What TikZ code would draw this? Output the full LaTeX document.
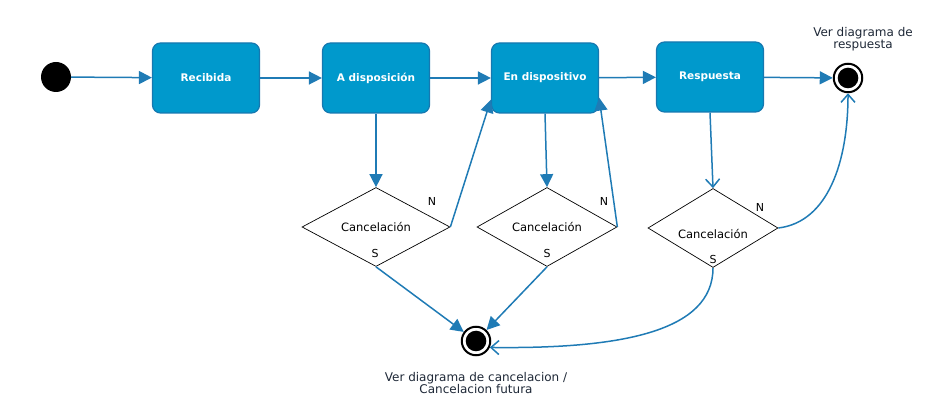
\documentclass[tikz,border=0pt]{standalone}
\usepackage{fontspec}
\setmainfont{DejaVu Sans}
\usepackage{tikz}
\usetikzlibrary{shapes.geometric, arrows.meta}
\usepackage{xcolor}
\definecolor{azulestado}{RGB}{0,153,204}
\definecolor{azulborde}{RGB}{22,120,176}
\definecolor{azulflecha}{RGB}{31,123,181}
\definecolor{textonota}{RGB}{30,40,55}

\begin{document}
\begin{tikzpicture}[x=1pt, y=1pt,
    estado/.style={draw=azulborde, line width=1.2pt, fill=azulestado, rounded corners=8pt,
      minimum width=107pt, minimum height=70pt, text=white, font=\fontsize{10.5}{12}\selectfont\bfseries},
    decision/.style={diamond, draw, line width=0.7pt, aspect=1.8, inner sep=0pt,
      minimum height=79pt, font=\fontsize{11.5}{13}\selectfont},
    flujo/.style={draw=azulflecha, line width=1.5pt, -{Triangle[length=13pt,width=13pt]}},
    flujoab/.style={draw=azulflecha, line width=1.5pt, -{Straight Barb[length=8pt,width=14pt]}},
    fin/.style={circle, draw, line width=2pt, fill=white, minimum size=28.5pt, inner sep=0pt,
      path picture={\fill[black] (path picture bounding box.center) circle (10.3pt);}},
    nota/.style={align=center, text=textonota, font=\fontsize{12}{12}\selectfont},
    rama/.style={font=\fontsize{11}{12}\selectfont}]
    \useasboundingbox (0,0) rectangle (933,417);

    \node[circle, fill=black, minimum size=30pt, inner sep=0pt] (inicio) at (56,340) {};
    \node[estado] (recibida) at (206,339) {Recibida};
    \node[estado] (adisp) at (376,339) {A disposición};
    \node[estado] (endisp) at (545,339) {En dispositivo};
    \node[estado] (resp) at (710,340) {Respuesta};
    \node[fin] (finresp) at (848,339) {};
    \node[nota] (notaresp) at (863,378) {Ver diagrama de\\respuesta};

    \node[decision, minimum width=148pt] (canc1) at (376,190) {Cancelación};
    \node[decision, minimum width=140pt] (canc2) at (547,190) {Cancelación};
    \node[decision, minimum width=130pt, text height=22pt] (canc3) at (713,189) {Cancelación};
    \node[rama] (n1) at (432,216) {N};
    \node[rama] (s1) at (375,164) {S};
    \node[rama] (n2) at (604,216) {N};
    \node[rama] (s2) at (547,164) {S};
    \node[rama] (n3) at (760,210) {N};
    \node[rama] (s3) at (713,158) {S};

    \node[fin] (fincanc) at (476,76) {};
    \node[nota] (notacanc) at (476,34) {Ver diagrama de cancelacion /\\Cancelacion futura};

    \coordinate (entraA) at ([yshift=14pt]endisp.south west);
    \coordinate (entraB) at ([yshift=16pt]endisp.south east);

    \draw[flujo] (inicio) -- (recibida);
    \draw[flujo] (recibida) -- (adisp);
    \draw[flujo] (adisp) -- (endisp);
    \draw[flujo] (endisp) -- (resp);
    \draw[flujo] (resp) -- (finresp);
    \draw[flujo] (adisp.south) -- (canc1.north);
    \draw[flujo] (canc1.east) -- (entraA);
    \draw[flujo] (endisp.south) -- (canc2.north);
    \draw[flujo] (canc2.east) -- (entraB);
    \draw[flujoab] (resp.south) -- (canc3.north);
    \draw[flujoab] (canc3.east) .. controls (828,195) and (848,255) .. (finresp.south);
    \draw[flujo] (canc1.south) -- (fincanc);
    \draw[flujo] (canc2.south) -- (fincanc);
    \draw[flujoab] (canc3.south) .. controls (713,85) and (620,68) .. (fincanc.-25);
\end{tikzpicture}
\end{document}
